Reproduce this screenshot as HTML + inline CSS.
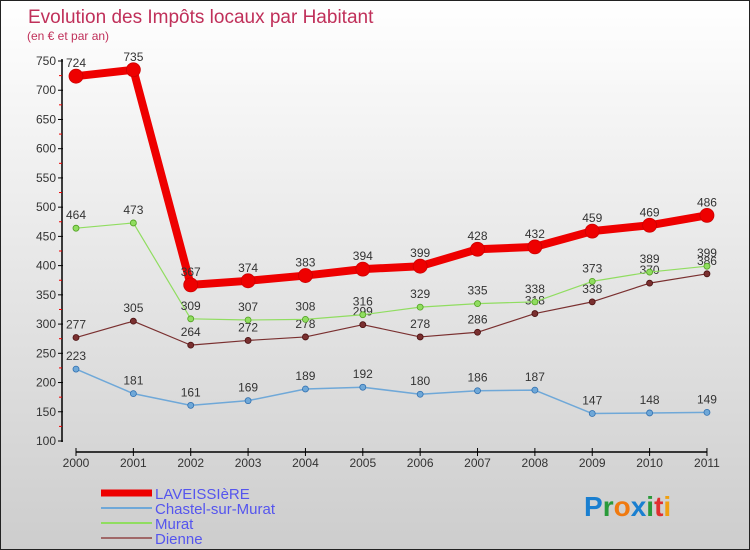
<!DOCTYPE html>
<html><head><meta charset="utf-8"><style>
body{margin:0}
#c{width:750px;height:550px;position:relative;box-sizing:border-box;border:1px solid #222;background:linear-gradient(#ffffff,#cdcdcd);font-family:"Liberation Sans",sans-serif;overflow:hidden}
text{font-family:"Liberation Sans",sans-serif}
</style></head><body>
<div id="c">
<svg id="s" width="750" height="550"></svg>
</div>
<script>
const years=["2000","2001","2002","2003","2004","2005","2006","2007","2008","2009","2010","2011"];
const yTicks=[100,150,200,250,300,350,400,450,500,550,600,650,700,750];
const laveissiere=[724,735,367,374,383,394,399,428,432,459,469,486];
const chastel=[223,181,161,169,189,192,180,186,187,147,148,149];
const murat=[464,473,309,307,308,316,329,335,338,373,389,399];
const dienne=[277,305,264,272,278,299,278,286,318,338,370,386];
const NS="http://www.w3.org/2000/svg";
const s=document.getElementById('s');
function xs(i){return 75+i*57.36;}
function ys(v){return 60+(750-v)*380/650;}
function mk(t,a,p){const e=document.createElementNS(NS,t);for(const k in a)e.setAttribute(k,a[k]);(p||s).appendChild(e);return e;}
let t=mk('text',{x:27,y:22,fill:'#c0305a','font-size':19});t.textContent='Evolution des Impôts locaux par Habitant';


t=mk('text',{x:26,y:39,fill:'#c0305a','font-size':12});t.textContent='(en € et par an)';


// y axis
let ax=mk('line',{x1:61,y1:58,x2:61,y2:441,stroke:'#000','stroke-width':1.5});


yTicks.forEach(v=>{const y=ys(v);mk('line',{x1:57,y1:y,x2:62,y2:y,stroke:'#000'});
let l=mk('text',{x:55,y:y+4,'text-anchor':'end','font-size':12,fill:'#333'});l.textContent=v;


if(v<750)mk('line',{x1:58,y1:ys(v+25),x2:61,y2:ys(v+25),stroke:'#e00'});});
let xa=mk('line',{x1:75,y1:451,x2:706,y2:451,stroke:'#000','stroke-width':1.5});


years.forEach((yr,i)=>{const x=xs(i);mk('line',{x1:x,y1:447,x2:x,y2:455,stroke:'#000'});
let l=mk('text',{x:x,y:466,'text-anchor':'middle','font-size':12,fill:'#333'});l.textContent=yr;

});
function series(arr,color,w,r,name,dark){
const g=mk('g',{});
mk('polyline',{points:arr.map((v,i)=>xs(i)+','+ys(v)).join(' '),fill:'none',stroke:color,'stroke-width':w,'stroke-linejoin':'round'},g);
arr.forEach((v,i)=>{const c=mk('circle',{cx:xs(i),cy:ys(v),r:r,fill:color,stroke:dark,'stroke-width':0.8},g);


const l=mk('text',{x:xs(i),y:ys(v)-9,'text-anchor':'middle','font-size':12,fill:'#333'},g);l.textContent=v;

});}
series(dienne,'#7a3030',1.2,3,'dienne','#4a1010');
series(murat,'#90dd60',1.2,3,'murat','#50a020');
series(chastel,'#6fa8d8',1.5,3,'chastel-sur-murat','#3070b0');
series(laveissiere,'#ee0000',8,7,'laveissiere','#cc0000');
// legend
const leg=[['LAVEISSIèRE','#ee0000',7],['Chastel-sur-Murat','#6fa8d8',2],['Murat','#90dd60',2],['Dienne','#a06868',2]];
leg.forEach((e,i)=>{const y=492+i*15;const g=mk('g',{});


mk('line',{x1:100,y1:y,x2:151,y2:y,stroke:e[1],'stroke-width':e[2]},g);
const l=mk('text',{x:154,y:y+6,'font-size':15,fill:'#5555ee'},g);l.textContent=e[0];});
// logo
const lg=mk('text',{x:583,y:515,'font-size':28,'font-weight':'bold'});


[['P','#1a7fd0'],['r','#2a9a3a'],['o','#f07a10'],['x','#1a7fd0'],['i','#2a9a3a'],['t','#e03030'],['i','#f0a010']].forEach(p=>{const ts=mk('tspan',{fill:p[1]},lg);ts.textContent=p[0];});
</script>
</body></html>
